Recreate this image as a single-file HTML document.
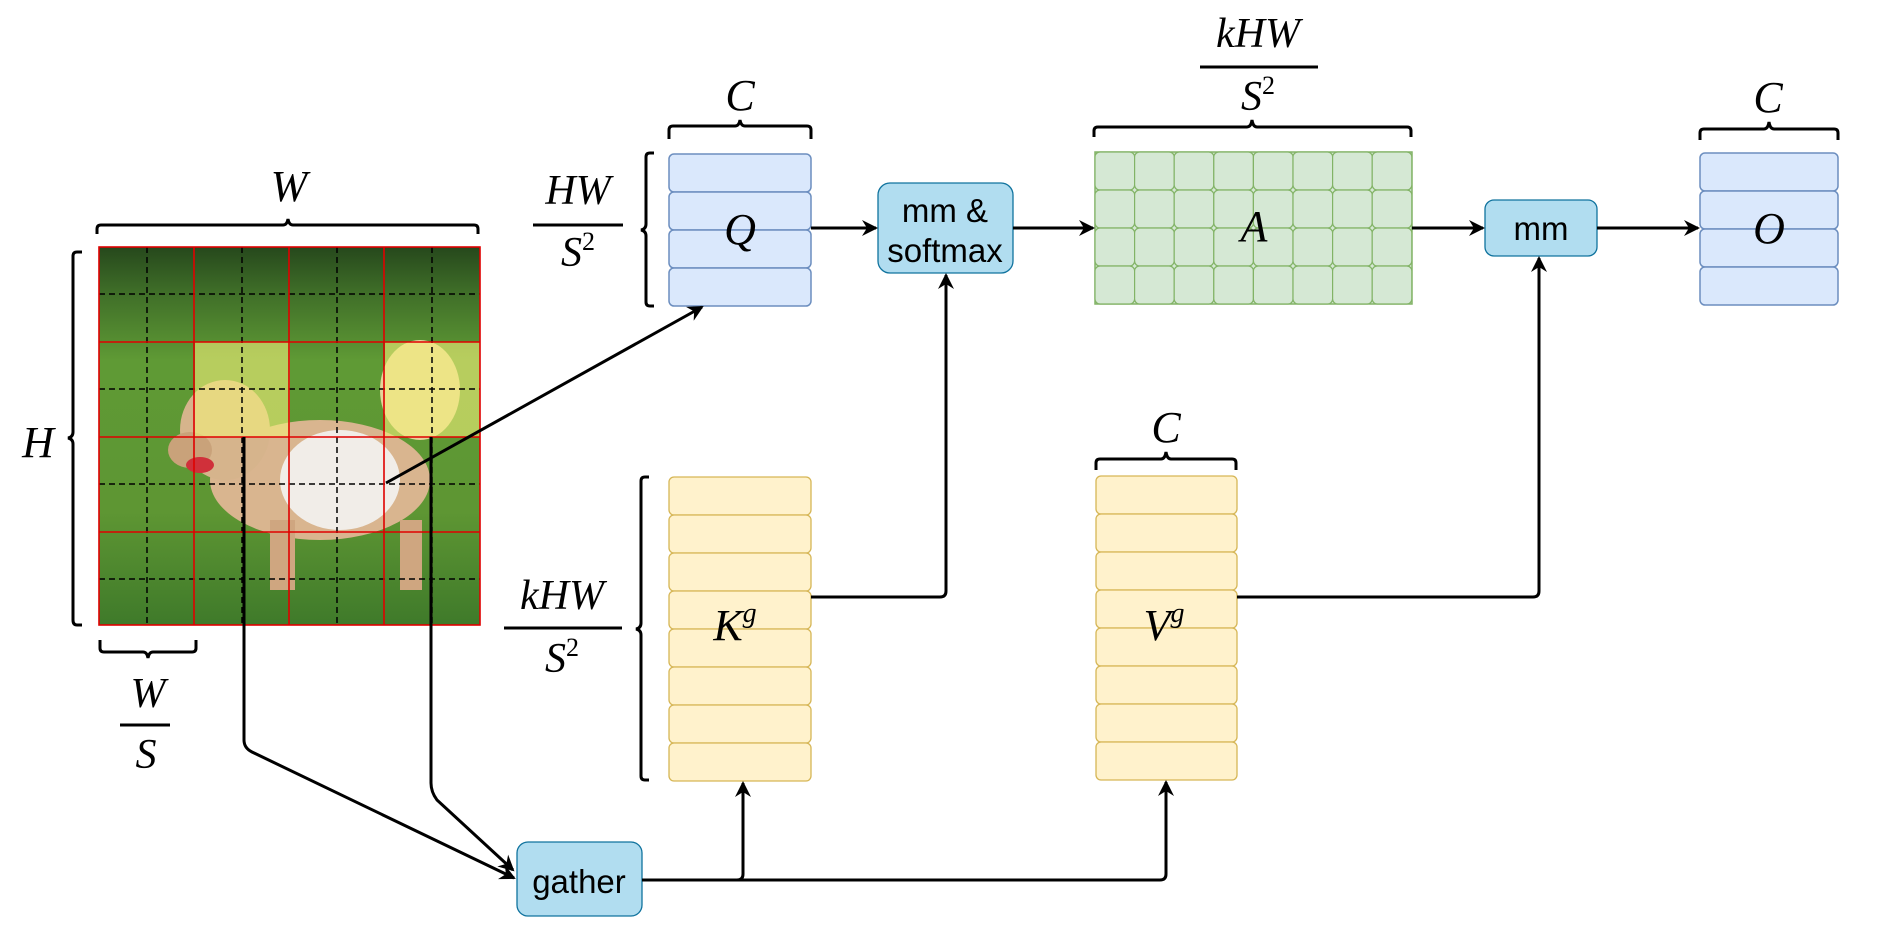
<!DOCTYPE html>
<html><head><meta charset="utf-8"><style>
html,body{margin:0;padding:0;background:#fff;}
svg{display:block}
.m{font-family:"Liberation Serif",serif;font-style:italic;fill:#000}
.s{font-family:"Liberation Sans",sans-serif;fill:#000}
</style></head><body>
<svg width="1878" height="934" viewBox="0 0 1878 934" xmlns="http://www.w3.org/2000/svg">
<defs>
<marker id="ar" markerWidth="16" markerHeight="16" refX="14" refY="8" orient="auto" markerUnits="userSpaceOnUse">
<path d="M0,0 L16,8 L0,16 L5,8 Z" fill="#000"/></marker>
<linearGradient id="bg" x1="0" y1="0" x2="0" y2="1">
<stop offset="0" stop-color="#26481c"/><stop offset="0.12" stop-color="#3f6e28"/><stop offset="0.3" stop-color="#5f9a35"/><stop offset="0.7" stop-color="#5e9633"/><stop offset="1" stop-color="#3f7a2a"/></linearGradient>
</defs>
<!-- photo -->
<rect x="99" y="247" width="381" height="378" fill="url(#bg)"/>
<ellipse cx="320" cy="480" rx="110" ry="60" fill="#d9b58f"/>
<ellipse cx="340" cy="480" rx="60" ry="50" fill="#f1ede8"/>
<ellipse cx="225" cy="430" rx="45" ry="50" fill="#d6b48c"/>
<ellipse cx="190" cy="450" rx="22" ry="18" fill="#c9a27a"/>
<ellipse cx="200" cy="465" rx="14" ry="8" fill="#d0303a"/>
<ellipse cx="420" cy="390" rx="40" ry="50" fill="#e6d39a"/>
<rect x="270" y="520" width="25" height="70" fill="#cfa680"/>
<rect x="400" y="520" width="22" height="70" fill="#cfa680"/>
<rect x="195" y="342" width="95" height="95" fill="#f2f07a" opacity="0.6"/>
<rect x="385" y="342" width="95" height="95" fill="#f2f07a" opacity="0.6"/>
<g stroke="#000" stroke-width="1.5" stroke-dasharray="6,4" fill="none">
<line x1="99" y1="294" x2="480" y2="294"/><line x1="99" y1="389" x2="480" y2="389"/><line x1="99" y1="484" x2="480" y2="484"/><line x1="99" y1="579" x2="480" y2="579"/>
<line x1="147" y1="247" x2="147" y2="625"/><line x1="242" y1="247" x2="242" y2="625"/><line x1="337" y1="247" x2="337" y2="625"/><line x1="432" y1="247" x2="432" y2="625"/>
</g>
<g stroke="#e00000" stroke-width="1.6" fill="none">
<rect x="99" y="247" width="381" height="378"/>
<line x1="99" y1="342" x2="480" y2="342"/><line x1="99" y1="437" x2="480" y2="437"/><line x1="99" y1="532" x2="480" y2="532"/>
<line x1="194" y1="247" x2="194" y2="625"/><line x1="289" y1="247" x2="289" y2="625"/><line x1="384" y1="247" x2="384" y2="625"/>
</g>
<!-- braces -->
<g stroke="#000" stroke-width="3" fill="none">
<path d="M97,234 V229 Q97,225 101,225 H283 Q287,225 288,219 Q289,225 293,225 H474 Q478,225 478,229 V234"/>
<path d="M82,252 H77 Q73,252 73,256 V432 Q73,437 68,438 Q73,439 73,444 V620 Q73,625 77,625 H82"/>
<path d="M100,640 V648 Q100,652 104,652 H143 Q147,652 148,658 Q149,652 153,652 H192 Q196,652 196,648 V640"/>
<path d="M669,139 V130 Q669,126 673,126 H735 Q739,126 740,120 Q741,126 745,126 H807 Q811,126 811,130 V139"/>
<path d="M1094,137 V131 Q1094,127 1098,127 H1247 Q1251,127 1252,120 Q1253,127 1257,127 H1407 Q1411,127 1411,131 V137"/>
<path d="M1700,140 V133 Q1700,129 1704,129 H1764 Q1768,129 1769,122 Q1770,129 1774,129 H1834 Q1838,129 1838,133 V140"/>
<path d="M1096,470 V463 Q1096,459 1100,459 H1161 Q1165,459 1166,452 Q1167,459 1171,459 H1232 Q1236,459 1236,463 V470"/>
<path d="M654,153 H650 Q646,153 646,157 V224 Q646,229 641,230 Q646,231 646,236 V302 Q646,306 650,306 H654"/>
<path d="M649,477 H645 Q641,477 641,481 V623 Q641,628 636,629 Q641,630 641,635 V776 Q641,780 645,780 H649"/>
</g>
<!-- labels -->
<text class="m" x="289" y="201" font-size="44" text-anchor="middle">W</text>
<text class="m" x="38" y="457" font-size="44" text-anchor="middle">H</text>
<text class="m" x="148" y="707" font-size="42" text-anchor="middle">W</text>
<line x1="120" y1="725" x2="170" y2="725" stroke="#000" stroke-width="3"/>
<text class="m" x="146" y="768" font-size="42" text-anchor="middle">S</text>
<text class="m" x="740" y="110" font-size="44" text-anchor="middle">C</text>
<text class="m" x="1768" y="112" font-size="44" text-anchor="middle">C</text>
<text class="m" x="1166" y="442" font-size="44" text-anchor="middle">C</text>
<text class="m" x="578" y="204" font-size="42" text-anchor="middle">HW</text>
<line x1="533" y1="225" x2="623" y2="225" stroke="#000" stroke-width="3"/>
<text class="m" x="578" y="266" font-size="42" text-anchor="middle">S<tspan font-style="normal" font-size="26" dy="-16">2</tspan></text>
<text class="m" x="562" y="609" font-size="42" text-anchor="middle">kHW</text>
<line x1="504" y1="628" x2="622" y2="628" stroke="#000" stroke-width="3"/>
<text class="m" x="562" y="672" font-size="42" text-anchor="middle">S<tspan font-style="normal" font-size="26" dy="-16">2</tspan></text>
<text class="m" x="1258" y="47" font-size="42" text-anchor="middle">kHW</text>
<line x1="1200" y1="67" x2="1318" y2="67" stroke="#000" stroke-width="3"/>
<text class="m" x="1258" y="110" font-size="42" text-anchor="middle">S<tspan font-style="normal" font-size="26" dy="-16">2</tspan></text>
<!-- Q -->
<g fill="#dae8fc" stroke="#6c8ebf" stroke-width="1.5">
<rect x="669" y="154" width="142" height="38" rx="5"/><rect x="669" y="192" width="142" height="38" rx="5"/><rect x="669" y="230" width="142" height="38" rx="5"/><rect x="669" y="268" width="142" height="38" rx="5"/>
<rect x="1700" y="153" width="138" height="38" rx="5"/><rect x="1700" y="191" width="138" height="38" rx="5"/><rect x="1700" y="229" width="138" height="38" rx="5"/><rect x="1700" y="267" width="138" height="38" rx="5"/>
</g>
<text class="m" x="740" y="244" font-size="44" text-anchor="middle">Q</text>
<text class="m" x="1769" y="243" font-size="44" text-anchor="middle">O</text>
<!-- A -->
<g fill="#d5e8d4" stroke="#82b366" stroke-width="1.5">
<rect x="1095" y="152" width="317" height="152"/>
</g>
<g fill="#d5e8d4" stroke="#82b366" stroke-width="1.2">
<rect x="1095" y="152" width="39.6" height="38" rx="5"/><rect x="1134.6" y="152" width="39.6" height="38" rx="5"/><rect x="1174.2" y="152" width="39.6" height="38" rx="5"/><rect x="1213.8" y="152" width="39.6" height="38" rx="5"/><rect x="1253.4" y="152" width="39.6" height="38" rx="5"/><rect x="1293" y="152" width="39.6" height="38" rx="5"/><rect x="1332.6" y="152" width="39.6" height="38" rx="5"/><rect x="1372.2" y="152" width="39.6" height="38" rx="5"/>
<rect x="1095" y="190" width="39.6" height="38" rx="5"/><rect x="1134.6" y="190" width="39.6" height="38" rx="5"/><rect x="1174.2" y="190" width="39.6" height="38" rx="5"/><rect x="1213.8" y="190" width="39.6" height="38" rx="5"/><rect x="1253.4" y="190" width="39.6" height="38" rx="5"/><rect x="1293" y="190" width="39.6" height="38" rx="5"/><rect x="1332.6" y="190" width="39.6" height="38" rx="5"/><rect x="1372.2" y="190" width="39.6" height="38" rx="5"/>
<rect x="1095" y="228" width="39.6" height="38" rx="5"/><rect x="1134.6" y="228" width="39.6" height="38" rx="5"/><rect x="1174.2" y="228" width="39.6" height="38" rx="5"/><rect x="1213.8" y="228" width="39.6" height="38" rx="5"/><rect x="1253.4" y="228" width="39.6" height="38" rx="5"/><rect x="1293" y="228" width="39.6" height="38" rx="5"/><rect x="1332.6" y="228" width="39.6" height="38" rx="5"/><rect x="1372.2" y="228" width="39.6" height="38" rx="5"/>
<rect x="1095" y="266" width="39.6" height="38" rx="5"/><rect x="1134.6" y="266" width="39.6" height="38" rx="5"/><rect x="1174.2" y="266" width="39.6" height="38" rx="5"/><rect x="1213.8" y="266" width="39.6" height="38" rx="5"/><rect x="1253.4" y="266" width="39.6" height="38" rx="5"/><rect x="1293" y="266" width="39.6" height="38" rx="5"/><rect x="1332.6" y="266" width="39.6" height="38" rx="5"/><rect x="1372.2" y="266" width="39.6" height="38" rx="5"/>
</g>
<text class="m" x="1254" y="241" font-size="44" text-anchor="middle">A</text>
<!-- K, V -->
<g fill="#fff2cc" stroke="#d6b656" stroke-width="1.3">
<rect x="669" y="477" width="142" height="38" rx="5"/><rect x="669" y="515" width="142" height="38" rx="5"/><rect x="669" y="553" width="142" height="38" rx="5"/><rect x="669" y="591" width="142" height="38" rx="5"/><rect x="669" y="629" width="142" height="38" rx="5"/><rect x="669" y="667" width="142" height="38" rx="5"/><rect x="669" y="705" width="142" height="38" rx="5"/><rect x="669" y="743" width="142" height="38" rx="5"/>
<rect x="1096" y="476" width="141" height="38" rx="5"/><rect x="1096" y="514" width="141" height="38" rx="5"/><rect x="1096" y="552" width="141" height="38" rx="5"/><rect x="1096" y="590" width="141" height="38" rx="5"/><rect x="1096" y="628" width="141" height="38" rx="5"/><rect x="1096" y="666" width="141" height="38" rx="5"/><rect x="1096" y="704" width="141" height="38" rx="5"/><rect x="1096" y="742" width="141" height="38" rx="5"/>
</g>
<text class="m" x="735" y="640" font-size="44" text-anchor="middle">K<tspan font-size="28" dy="-18">g</tspan></text>
<text class="m" x="1164" y="640" font-size="44" text-anchor="middle">V<tspan font-size="28" dy="-18">g</tspan></text>
<!-- op boxes -->
<g fill="#b1ddf0" stroke="#10739e" stroke-width="1.3">
<rect x="878" y="183" width="135" height="90" rx="12"/>
<rect x="1485" y="200" width="112" height="56" rx="9"/>
<rect x="517" y="842" width="125" height="74" rx="11"/>
</g>
<text class="s" x="945" y="222" font-size="33" text-anchor="middle">mm &amp;</text>
<text class="s" x="945" y="262" font-size="33" text-anchor="middle">softmax</text>
<text class="s" x="1541" y="240" font-size="33" text-anchor="middle">mm</text>
<text class="s" x="579" y="893" font-size="33" text-anchor="middle">gather</text>
<!-- connectors -->
<g stroke="#000" stroke-width="3" fill="none" marker-end="url(#ar)">
<line x1="386" y1="483" x2="702" y2="307"/>
<line x1="811" y1="228" x2="876" y2="228"/>
<line x1="1013" y1="228" x2="1093" y2="228"/>
<line x1="1412" y1="228" x2="1483" y2="228"/>
<line x1="1597" y1="228" x2="1698" y2="228"/>
<path d="M811,597 H940 Q946,597 946,591 V275"/>
<path d="M1237,597 H1533 Q1539,597 1539,591 V258"/>
<path d="M642,880 H737 Q743,880 743,874 V783"/>
<path d="M642,880 H1160 Q1166,880 1166,874 V782"/>
<path d="M244,437 V740 Q244,748 252,752 L514,878"/>
<path d="M431,437 V783 Q431,792 437,800 L513,870"/>
</g>
</svg>
</body></html>
